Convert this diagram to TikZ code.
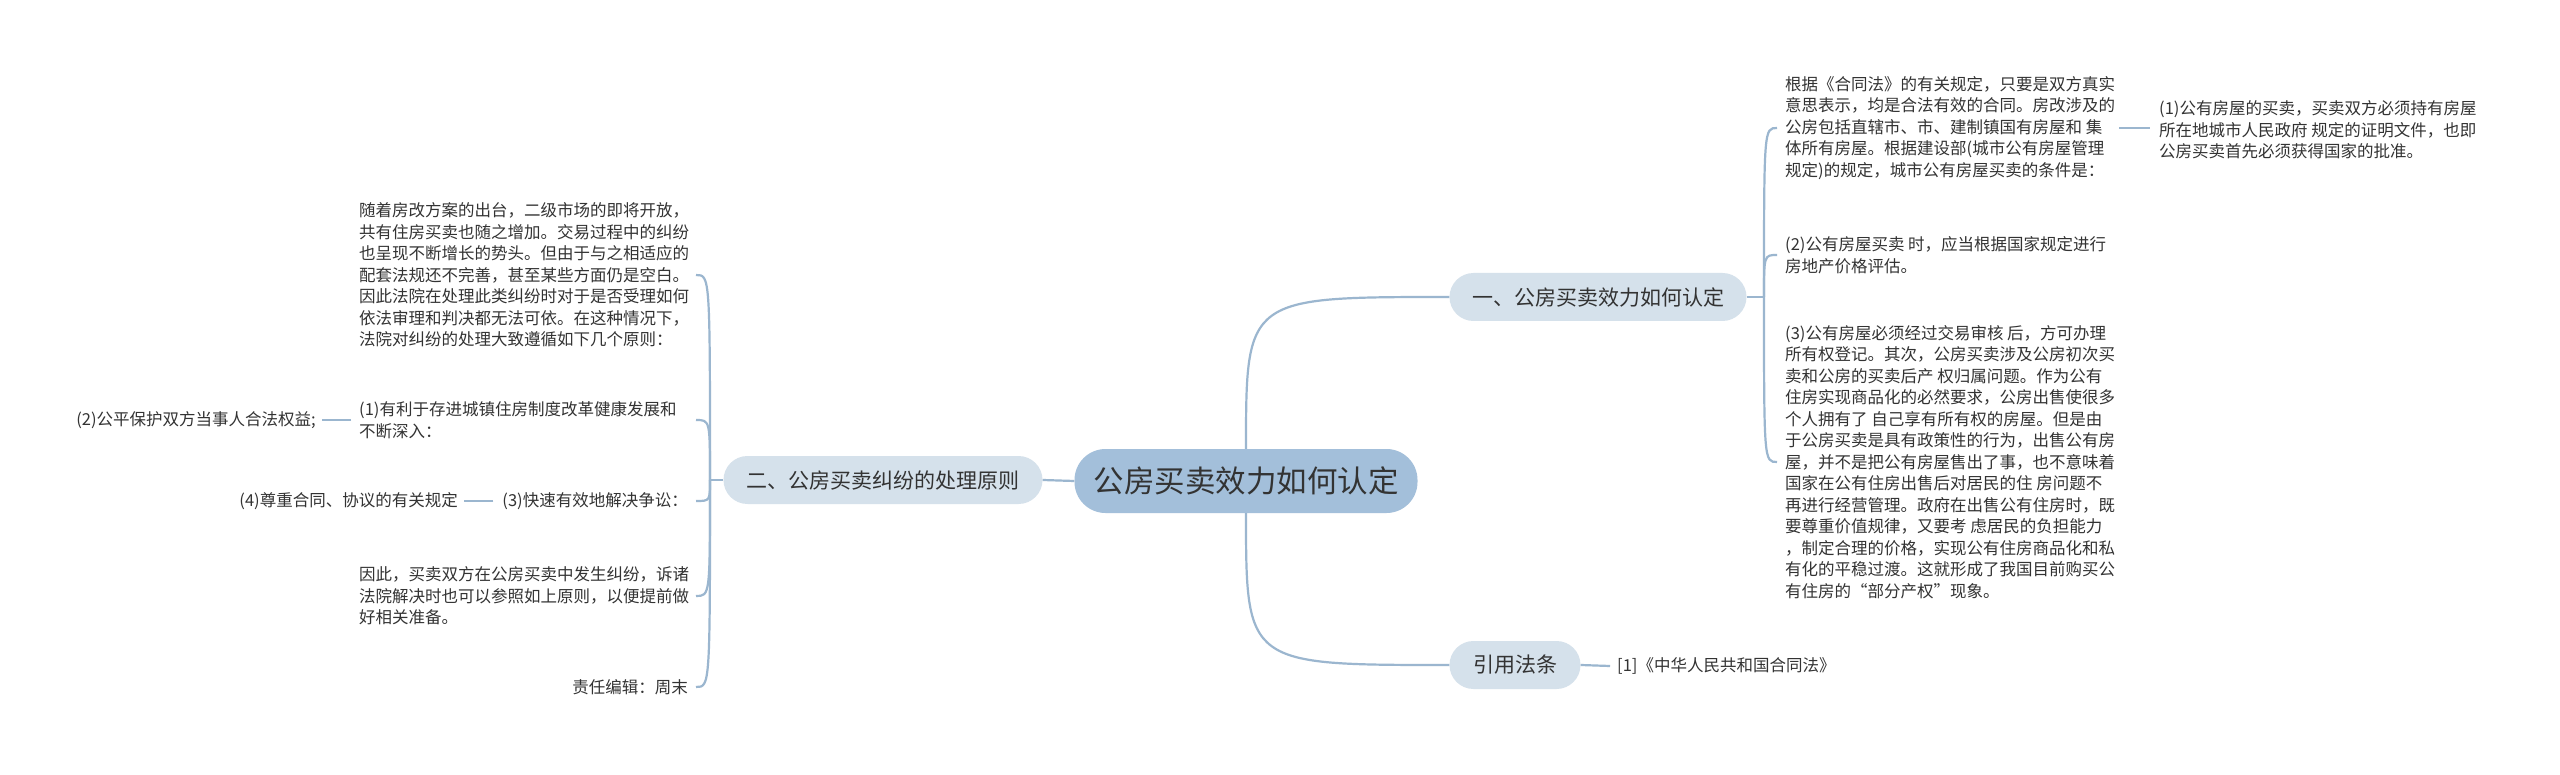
\documentclass[tikz,border=0pt]{standalone}
\usepackage{fontspec}
\setmainfont{Noto Sans CJK SC}
\usetikzlibrary{calc}
\definecolor{linec}{HTML}{9BB6CF}
\definecolor{rootfill}{HTML}{A3BFDA}
\definecolor{lonefill}{HTML}{D5E1EB}
\definecolor{txt}{HTML}{333333}
\begin{document}
\begin{tikzpicture}[x=1pt,y=-1pt,
  rootbox/.style={fill=rootfill, rounded corners=31pt, minimum width=343pt, minimum height=64pt, inner sep=0pt, font=\fontsize{30.5}{36}\selectfont, text=txt},
  lonebox/.style={fill=lonefill, rounded corners=24pt, minimum height=48pt, inner sep=0pt, font=\fontsize{21}{25}\selectfont, text=txt},
  leaf/.style={font=\fontsize{16.5}{21.5}\selectfont, text=txt, align=left, inner sep=0pt},
  conn/.style={draw=linec, line width=2.2pt}]
\useasboundingbox (0,0) rectangle (2560,775);
\fill[white] (0,0) rectangle (2560,775);

% main nodes
\node[rootbox] (root) at (1246,481) {公房买卖效力如何认定};
\node[lonebox, minimum width=319pt] (ltwo) at (883,480) {二、公房买卖纠纷的处理原则};
\node[lonebox, minimum width=297pt] (lone) at (1598,297) {一、公房买卖效力如何认定};
\node[lonebox, minimum width=131pt] (cite) at (1515,665) {引用法条};

% right leaves
\node[leaf, anchor=west] (ra) at (1785,128) {根据《合同法》的有关规定，只要是双方真实\\意思表示，均是合法有效的合同。房改涉及的\\公房包括直辖市、市、建制镇国有房屋和 集\\体所有房屋。根据建设部(城市公有房屋管理\\规定)的规定，城市公有房屋买卖的条件是：};
\node[leaf, anchor=west] (rab) at (2159,130) {(1)公有房屋的买卖，买卖双方必须持有房屋\\所在地城市人民政府 规定的证明文件，也即\\公房买卖首先必须获得国家的批准。};
\node[leaf, anchor=west] (rb) at (1785,255) {(2)公有房屋买卖 时，应当根据国家规定进行\\房地产价格评估。};
\node[leaf, anchor=west] (rc) at (1785,462) {(3)公有房屋必须经过交易审核 后，方可办理\\所有权登记。其次，公房买卖涉及公房初次买\\卖和公房的买卖后产 权归属问题。作为公有\\住房实现商品化的必然要求，公房出售使很多\\个人拥有了 自己享有所有权的房屋。但是由\\于公房买卖是具有政策性的行为，出售公有房\\屋，并不是把公有房屋售出了事，也不意味着\\国家在公有住房出售后对居民的住 房问题不\\再进行经营管理。政府在出售公有住房时，既\\要尊重价值规律，又要考 虑居民的负担能力\\，制定合理的价格，实现公有住房商品化和私\\有化的平稳过渡。这就形成了我国目前购买公\\有住房的“部分产权”现象。};
\node[leaf, anchor=west] (citea) at (1617,666) {[1]《中华人民共和国合同法》};

% left leaves
\node[leaf, anchor=west] (la) at (359,275) {随着房改方案的出台，二级市场的即将开放，\\共有住房买卖也随之增加。交易过程中的纠纷\\也呈现不断增长的势头。但由于与之相适应的\\配套法规还不完善，甚至某些方面仍是空白。\\因此法院在处理此类纠纷时对于是否受理如何\\依法审理和判决都无法可依。在这种情况下，\\法院对纠纷的处理大致遵循如下几个原则：};
\node[leaf, anchor=west] (lb) at (359,420) {(1)有利于存进城镇住房制度改革健康发展和\\不断深入：};
\node[leaf, anchor=east] (lbb) at (316,420) {(2)公平保护双方当事人合法权益;};
\node[leaf, anchor=east] (lc) at (688,501) {(3)快速有效地解决争讼：};
\node[leaf, anchor=east] (lcc) at (458,501) {(4)尊重合同、协议的有关规定};
\node[leaf, anchor=west] (ld) at (359,596) {因此，买卖双方在公房买卖中发生纠纷，诉诸\\法院解决时也可以参照如上原则，以便提前做\\好相关准备。};
\node[leaf, anchor=east] (le) at (688,687) {责任编辑：周末};

% root connectors
\draw[conn] (root.west) -- (ltwo.east);
\draw[conn] (root.north) .. controls (root.north |- lone.west) .. (lone.west);
\draw[conn] (root.south) .. controls (root.south |- cite.west) .. (cite.west);

% right trunk
\coordinate (tone) at (1764,297);
\draw[conn] (lone.east) -- (tone);
\foreach \n in {ra,rb,rc}{
  \draw[conn] (tone) .. controls (tone |- \n.west) .. ($(tone |- \n.west)+(13,0)$);
}
\draw[conn] ($(ra.east)+(4,0)$) -- ($(ra.east -| rab.west)+(-9,0)$);
\draw[conn] (cite.east) -- ($(citea.west)+(-7,0)$);

% left trunk
\coordinate (ttwo) at (710,480);
\draw[conn] (ltwo.west) -- (ttwo);
\foreach \n in {la,lb,lc,ld,le}{
  \draw[conn] (ttwo) .. controls (ttwo |- \n.west) .. ($(ttwo |- \n.west)+(-14,0)$);
}
\draw[conn] ($(lb.west)+(-8,0)$) -- ($(lb.west -| lbb.east)+(6,0)$);
\draw[conn] ($(lc.west)+(-9,0)$) -- ($(lc.west -| lcc.east)+(6,0)$);
\end{tikzpicture}
\end{document}
